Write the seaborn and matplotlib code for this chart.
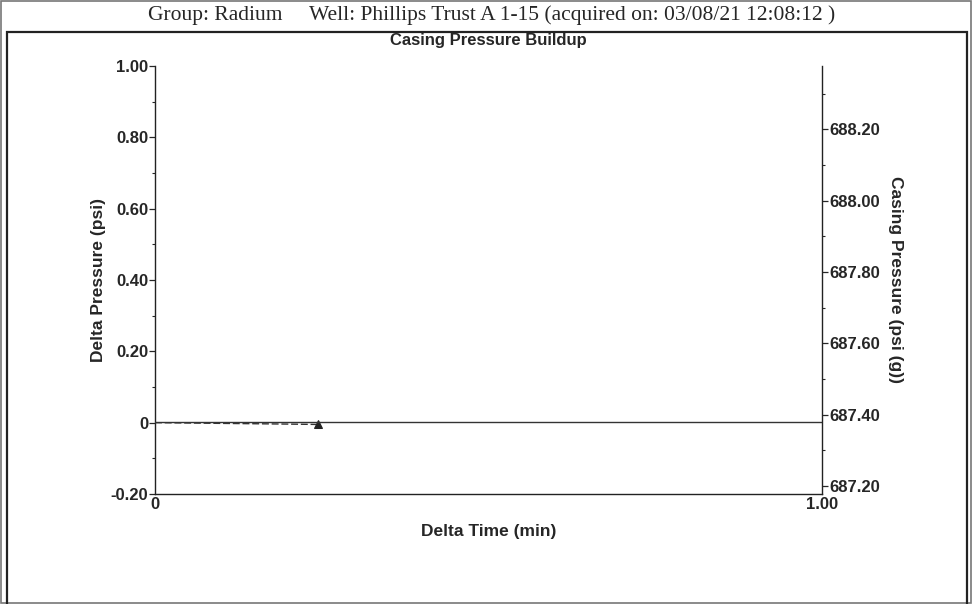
import numpy as np
import pandas as pd
import matplotlib
matplotlib.use("Agg")
import matplotlib.pyplot as plt
from matplotlib.patches import Rectangle
from matplotlib.ticker import MultipleLocator
import seaborn as sb

# data
delta_time = [0.0, 0.05, 0.10, 0.15, 0.20, 0.244]
delta_press = [0.0, -0.001, -0.002, -0.003, -0.004, -0.005]
casing_time = [0.0, 1.0]
casing_press = [687.38, 687.38]

left_ticks = [-0.20, 0, 0.20, 0.40, 0.60, 0.80, 1.00]
left_labels = ["-0.20", "0", "0.20", "0.40", "0.60", "0.80", "1.00"]
right_ticks = [687.20, 687.40, 687.60, 687.80, 688.00, 688.20]

df_dp = pd.DataFrame({"t": delta_time, "dp": delta_press})
df_cp = pd.DataFrame({"t": casing_time, "cp": casing_press})

sb.set_style("ticks")
plt.rcParams["font.family"] = ["Liberation Sans", "DejaVu Sans"]

W, H = 973, 604
fs_tick = 12
fs_lab = 12.5

fig = plt.figure(figsize=(W / 100, H / 100), dpi=100)

# frames of the printed report
fig.patches.append(Rectangle((1 / W, 1 / H), 970 / W, 602 / H, transform=fig.transFigure,
                             fill=False, edgecolor="#777777", linewidth=1.2))
fig.patches.append(Rectangle((7 / W, -0.01), 960 / W, 1 - 32 / H + 0.01, transform=fig.transFigure,
                             fill=False, edgecolor="#222222", linewidth=1.6))

ax = fig.add_axes([155 / W, 1 - 494 / H, 667 / W, 428 / H])
sb.lineplot(data=df_dp, x="t", y="dp", ax=ax, color="#333333", linestyle=(0, (5, 2)),
            linewidth=1.0, marker="^", markevery=[len(delta_time) - 1], markersize=6,
            markeredgecolor="#222222", markerfacecolor="#222222")

ax.set_xlim(0, 1)
ax.set_ylim(-0.20, 1.00)
ax.set_yticks(left_ticks)
ax.set_yticklabels(left_labels)
ax.yaxis.set_minor_locator(MultipleLocator(0.1))
ax.set_xticks([0, 1.0])
ax.set_xticklabels(["0", "1.00"])
ax.tick_params(axis="x", length=0, pad=2, labelsize=fs_tick)
ax.tick_params(axis="y", which="major", length=4, width=0.9, pad=1, labelsize=fs_tick)
ax.tick_params(axis="y", which="minor", length=2, width=0.8)
for lab in ax.get_xticklabels() + ax.get_yticklabels():
    lab.set_fontweight("bold")
ax.spines["top"].set_visible(False)
ax.spines["right"].set_visible(False)
for s in ["left", "bottom"]:
    ax.spines[s].set_linewidth(1.0)
    ax.spines[s].set_color("#222222")

ax.set_xlabel("Delta Time (min)", fontsize=fs_lab, fontweight="bold", labelpad=9)
ax.set_ylabel("Delta Pressure (psi)", fontsize=fs_lab, fontweight="bold", labelpad=3)

ax2 = ax.twinx()
sb.lineplot(data=df_cp, x="t", y="cp", ax=ax2, color="#333333", linewidth=1.0)
ax2.set_ylim(687.178, 688.378)
ax2.set_yticks(right_ticks)
ax2.set_yticklabels([f"{v:.2f}" for v in right_ticks])
ax2.yaxis.set_minor_locator(MultipleLocator(0.1))
ax2.tick_params(axis="y", which="major", length=4, width=0.9, pad=1, labelsize=fs_tick)
ax2.tick_params(axis="y", which="minor", length=2, width=0.8)
for lab in ax2.get_yticklabels():
    lab.set_fontweight("bold")
ax2.spines["top"].set_visible(False)
ax2.spines["left"].set_visible(False)
ax2.spines["bottom"].set_visible(False)
ax2.spines["right"].set_linewidth(1.0)
ax2.spines["right"].set_color("#222222")
ax2.set_xlabel("")
ax2.set_ylabel("Casing Pressure (psi (g))", fontsize=fs_lab, fontweight="bold",
               rotation=270, labelpad=17)

fig.text(488 / W, 1 - 41 / H, "Casing Pressure Buildup", ha="center", va="center",
         fontsize=12, fontweight="bold")
fig.text(492 / W, 1 - 15 / H,
         "Group: Radium     Well: Phillips Trust A 1-15 (acquired on: 03/08/21 12:08:12 )",
         ha="center", va="center", fontsize=15.5, family=["Liberation Serif", "DejaVu Serif"])

fig.savefig("out.png", dpi=100)
